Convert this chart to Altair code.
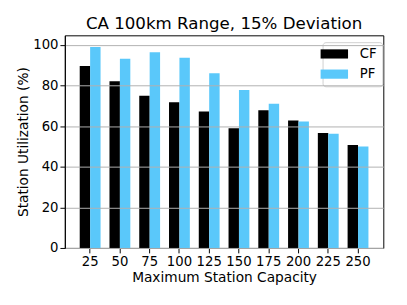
import altair as alt
import pandas as pd

capacities = [25, 50, 75, 100, 125, 150, 175, 200, 225, 250]
cf_values = [89.7, 82.2, 75.0, 71.8, 67.3, 59.0, 67.9, 62.8, 56.7, 50.8]
pf_values = [99.0, 93.2, 96.4, 93.7, 86.1, 77.8, 71.1, 62.3, 56.3, 50.0]
series = ["CF", "PF"]
colors = ["#000000", "#5AC8FA"]

rows = []
for c, a, b in zip(capacities, cf_values, pf_values):
    rows.append({"capacity": c, "series": "CF", "value": a})
    rows.append({"capacity": c, "series": "PF", "value": b})
df = pd.DataFrame(rows)

FONT = "DejaVu Sans"

chart = alt.Chart(df).mark_bar(stroke=None).encode(
    x=alt.X("capacity:O", title="Maximum Station Capacity",
            scale=alt.Scale(paddingInner=0.3, paddingOuter=0.5),
            axis=alt.Axis(labelAngle=0, grid=False, tickSize=5, labelPadding=2,
                          titlePadding=3, labelFontSize=13.5, titleFontSize=14)),
    xOffset=alt.XOffset("series:N", sort=series),
    y=alt.Y("value:Q", title="Station Utilization (%)",
            scale=alt.Scale(domain=[0, 104.8], nice=False, zero=True),
            axis=alt.Axis(values=[0, 20, 40, 60, 80, 100], grid=True, tickSize=5,
                          labelPadding=2, titlePadding=2, labelFontSize=13.5,
                          titleFontSize=14, zindex=1, gridColor="#b0b0b0",
                          gridWidth=1)),
    color=alt.Color("series:N", sort=series,
                    scale=alt.Scale(domain=series, range=colors),
                    legend=alt.Legend(title=None, orient="none", legendX=263, legendY=7,
                                      symbolType="M-2,-0.67H2V0.67H-2Z",
                                      symbolSize=196, symbolStrokeWidth=0,
                                      labelFontSize=13.5, labelFont=FONT,
                                      rowPadding=6.6, padding=5,
                                      fillColor="white", strokeColor="#d0d0d0",
                                      cornerRadius=3, labelOffset=19)),
).properties(
    width=325, height=217,
    title=alt.TitleParams("CA 100km Range, 15% Deviation", fontSize=17,
                          font=FONT, fontWeight="normal", offset=2),
    autosize=alt.AutoSizeParams(type="none"),
    padding={"left": 58, "top": 25, "right": 16, "bottom": 40},
).configure_axis(
    labelFont=FONT, titleFont=FONT, labelColor="black", titleColor="black",
    domainColor="black", tickColor="black", titleFontWeight="normal",
).configure_view(
    stroke="black", strokeWidth=1,
)

chart.save("out.html", embed_options={"renderer": "svg", "actions": False})
